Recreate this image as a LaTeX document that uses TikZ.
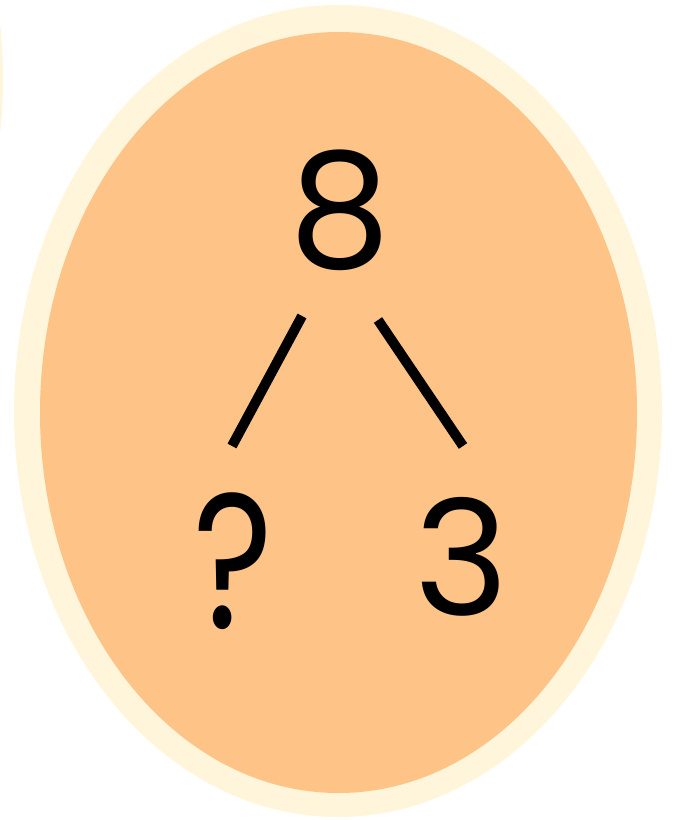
\documentclass[tikz,border=0pt]{standalone}
\usepackage{fontspec}
\setmainfont{Poppins}
\usepackage{xcolor}
\usetikzlibrary{positioning,calc}

\definecolor{eggcream}{RGB}{255,245,218}
\definecolor{eggorange}{RGB}{253,195,135}

\tikzset{
  numlabel/.style={anchor=base, inner sep=0pt, font=\fontsize{114}{120}\selectfont},
  branch/.style={line width=0.25cm, line cap=butt}
}

\begin{document}
\begin{tikzpicture}[x=0.025cm, y=-0.025cm]
  \useasboundingbox (0,0) rectangle (679,820);

  % Neighbouring egg, cut off at the left edge
  \fill[eggcream] (-321,78) ellipse (324 and 406);

  % Egg: cream rim and orange body
  \fill[eggcream] (338,411) ellipse (324 and 406);
  \fill[eggorange] (338.5,412.5) ellipse (298.5 and 380.5);

  % Number bond
  \node[numlabel] (whole) at (340,267) {8};
  \node[numlabel] (partA) at (233,628) {\scalebox{0.95}[1.2]{?}};
  \node[numlabel] (partB) at (462,615) {3};

  \coordinate (la) at (302,316);
  \coordinate (lb) at (232,446);
  \coordinate (ra) at (378,320);
  \coordinate (rb) at (463,446);
  \draw[branch] (la) -- (lb);
  \draw[branch] (ra) -- (rb);
\end{tikzpicture}
\end{document}
